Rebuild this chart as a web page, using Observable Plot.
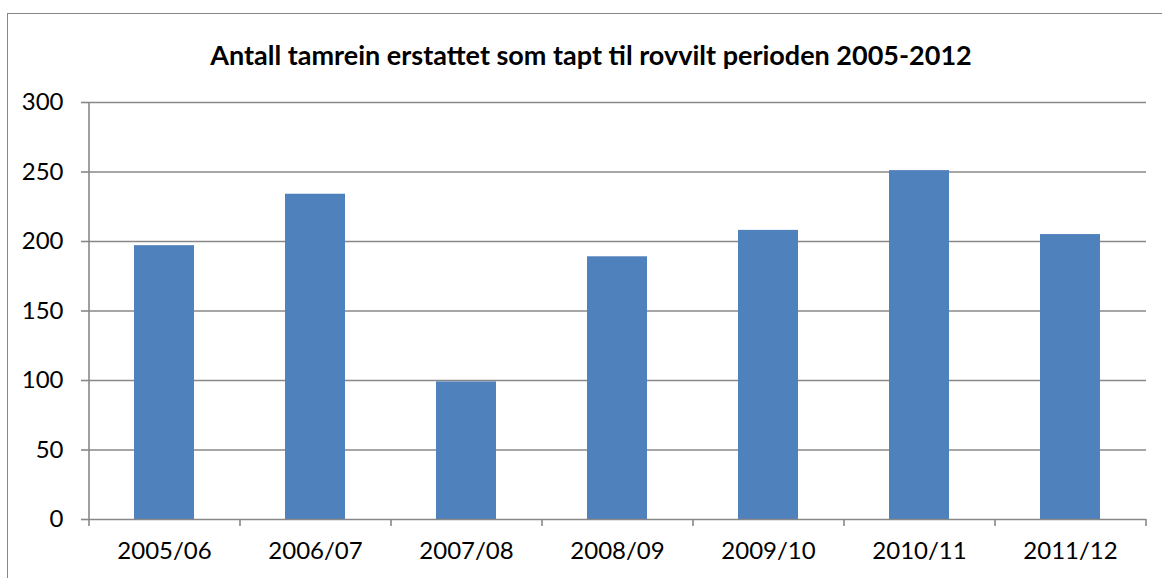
<!DOCTYPE html>
<html>
<head>
<meta charset="utf-8">
<script src="https://cdn.jsdelivr.net/npm/d3@7"></script>
<script src="https://cdn.jsdelivr.net/npm/@observablehq/plot@0.6"></script>
<style>
  html, body { margin: 0; padding: 0; background: #fff; }
  #wrap { position: relative; width: 1162px; height: 578px; overflow: hidden; font-family: Lato, "Open Sans", sans-serif; }
  #frame { position: absolute; left: 7px; top: 13px; width: 1200px; height: 700px; border: 1.5px solid #878787; box-sizing: border-box; }
  #title { position: absolute; left: 0; top: 38px; width: 1182px; text-align: center; font-size: 27px; font-weight: bold; color: #000; }
  #chart { position: absolute; left: 0; top: 0; }
</style>
</head>
<body>
<div id="wrap">
  <div id="frame"></div>
  <div id="chart"></div>
  <div id="title">Antall tamrein erstattet som tapt til rovvilt perioden 2005-2012</div>
</div>
<script>
const seasons = ["2005/06", "2006/07", "2007/08", "2008/09", "2009/10", "2010/11", "2011/12"];
const counts = [197, 234, 99, 189, 208, 251, 205];
const yTicks = [0, 50, 100, 150, 200, 250, 300];

const data = seasons.map((s, i) => ({season: s, count: counts[i]}));

const chart = Plot.plot({
  width: 1162,
  height: 578,
  marginLeft: 89,
  marginRight: 16,
  marginTop: 102,
  marginBottom: 59,
  style: {fontFamily: "Lato, 'Open Sans', sans-serif", fontSize: "24px", color: "#000", background: "transparent"},
  x: {domain: seasons, paddingInner: 0.6, paddingOuter: 0.3, label: null},
  y: {domain: [0, 300], label: null},
  marks: [
    Plot.ruleY(yTicks.filter(d => d > 0), {stroke: "#888", strokeWidth: 1.6}),
    Plot.barY(data, {x: "season", y: "count", fill: "#4F81BD"}),
    Plot.axisY({ticks: yTicks, tickSize: 8, tickPadding: 18, stroke: "#888", strokeWidth: 1.6, fill: "#000", label: null, fontSize: 24}),
    Plot.ruleY([0], {stroke: "#888", strokeWidth: 1.6}),
    Plot.axisX({tickSize: 0, tickPadding: 22, label: null, fill: "#000", fontSize: 24})
  ]
});

const xs = chart.scale("x");
const ys = chart.scale("y");
const svg = d3.select(chart);
const left = xs.range[0];
const right = xs.range[1];
const y0 = ys.apply(0);
const y300 = ys.apply(300);
const g = svg.append("g").attr("stroke", "#888").attr("stroke-width", 1.6);
g.append("line").attr("x1", left).attr("x2", left).attr("y1", y300).attr("y2", y0);
const n = seasons.length;
for (let i = 0; i <= n; i++) {
  const x = left + (right - left) * i / n;
  g.append("line").attr("x1", x).attr("x2", x).attr("y1", y0).attr("y2", y0 + 7);
}
document.getElementById("chart").appendChild(chart);
</script>
</body>
</html>
